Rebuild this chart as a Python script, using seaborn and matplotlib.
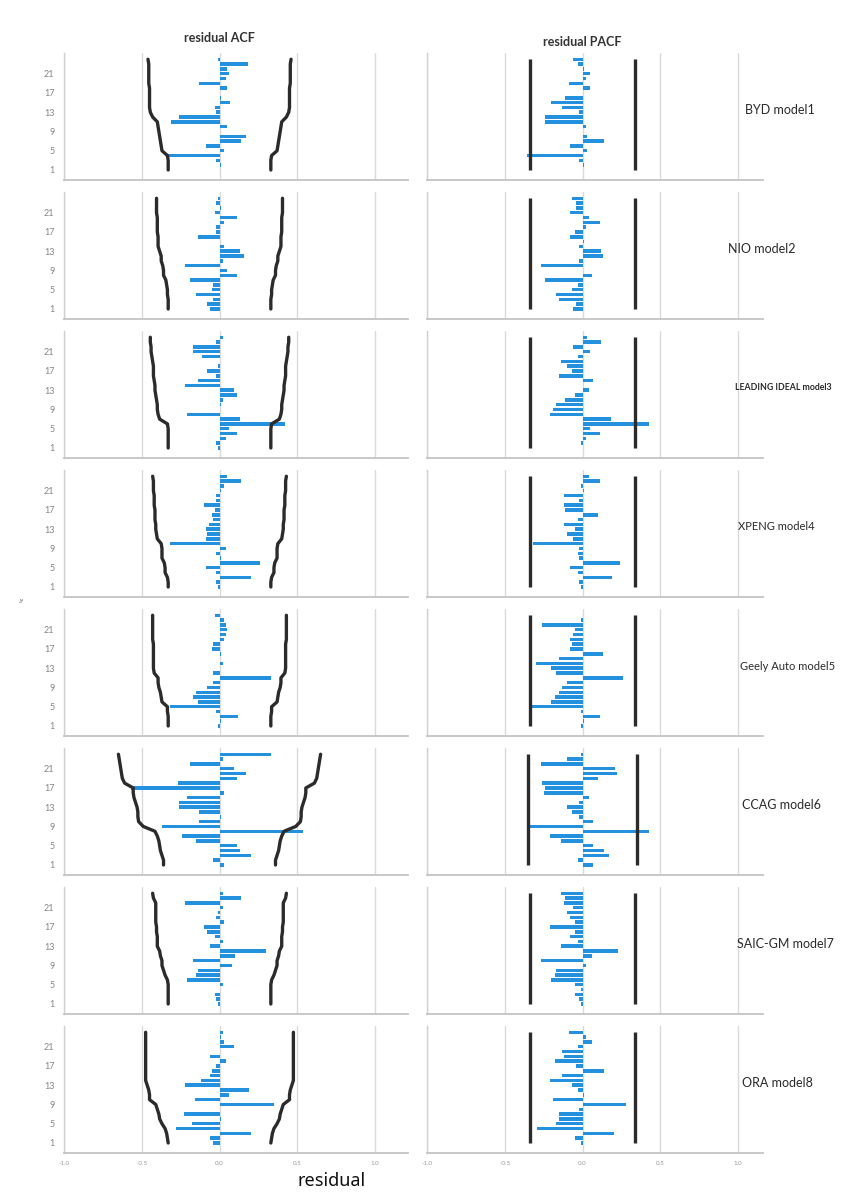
import matplotlib
matplotlib.use("Agg")
import matplotlib.pyplot as plt
import seaborn as sns

# ---------------- data ----------------
lags = list(range(1, 25))
tick_lags = [1, 5, 9, 13, 17, 21]
x_ticks = [-1.0, -0.5, 0.0, 0.5, 1.0]
x_tick_labels = ["-1.0", "-0.5", "0.0", "0.5", "1.0"]
models = ["BYD model1", "NIO model2", "LEADING IDEAL model3", "XPENG model4",
          "Geely Auto model5", "CCAG model6", "SAIC-GM model7", "ORA model8"]

byd_acf = [0.0, 0.01, -0.02, -0.34, 0.03, -0.09, 0.14, 0.17, 0.0, 0.05, -0.31, -0.26,
           -0.02, -0.03, 0.07, 0.01, 0.0, 0.05, -0.13, 0.04, 0.06, 0.05, 0.18, -0.01]
byd_lim = [0.33, 0.33, 0.33, 0.335, 0.37, 0.375, 0.38, 0.385, 0.39, 0.395, 0.40, 0.43,
           0.445, 0.45, 0.45, 0.45, 0.45, 0.45, 0.455, 0.455, 0.455, 0.455, 0.455, 0.46]
byd_pacf = [0.0, 0.01, -0.02, -0.36, 0.03, -0.08, 0.14, 0.03, 0.0, 0.02, -0.24, -0.24,
            -0.02, -0.13, -0.2, -0.11, 0.0, 0.05, -0.09, 0.02, 0.05, 0.01, -0.03, -0.06]

nio_acf = [-0.06, -0.08, -0.04, -0.15, -0.05, -0.04, -0.19, 0.11, 0.05, -0.22, 0.02, 0.16,
           0.13, 0.03, 0.0, -0.14, -0.02, -0.02, 0.03, 0.11, -0.03, 0.01, -0.02, -0.01]
nio_lim = [0.33, 0.33, 0.33, 0.335, 0.335, 0.34, 0.345, 0.36, 0.36, 0.365, 0.375, 0.375,
           0.385, 0.395, 0.395, 0.395, 0.40, 0.40, 0.40, 0.40, 0.405, 0.405, 0.405, 0.405]
nio_pacf = [-0.06, -0.04, -0.15, -0.17, -0.07, -0.03, -0.24, 0.06, 0.0, -0.27, -0.02, 0.13,
            0.12, -0.02, 0.01, -0.08, -0.05, 0.02, 0.11, 0.04, -0.08, -0.04, -0.04, -0.07]

lead_acf = [-0.01, -0.02, 0.04, 0.11, 0.06, 0.42, 0.13, -0.21, 0.0, 0.01, 0.02, 0.11,
            0.09, -0.22, -0.14, -0.02, -0.08, -0.01, 0.0, -0.11, -0.17, -0.17, -0.02, 0.02]
lead_lim = [0.33, 0.33, 0.33, 0.33, 0.33, 0.335, 0.385, 0.395, 0.40, 0.40, 0.405, 0.41,
            0.415, 0.415, 0.42, 0.425, 0.425, 0.425, 0.43, 0.435, 0.44, 0.44, 0.445, 0.445]
lead_pacf = [0.0, -0.01, 0.02, 0.11, 0.05, 0.43, 0.18, -0.21, -0.19, -0.17, -0.11, -0.05,
             0.04, 0.0, 0.07, -0.15, -0.07, -0.1, -0.14, -0.03, 0.05, -0.06, 0.12, 0.03]

xp_acf = [-0.01, -0.02, 0.2, -0.02, -0.09, 0.26, 0.01, -0.02, 0.04, -0.32, -0.09, -0.08,
          -0.09, -0.07, -0.04, -0.05, -0.03, -0.1, -0.02, -0.02, 0.01, 0.03, 0.14, 0.05]
xp_lim = [0.33, 0.33, 0.335, 0.35, 0.35, 0.355, 0.37, 0.37, 0.37, 0.375, 0.40, 0.405,
          0.41, 0.41, 0.415, 0.415, 0.415, 0.42, 0.42, 0.42, 0.425, 0.425, 0.425, 0.43]
xp_pacf = [-0.01, -0.02, 0.19, -0.03, -0.08, 0.24, -0.02, -0.03, -0.02, -0.32, -0.06, -0.1,
           -0.05, -0.12, -0.03, 0.1, -0.11, -0.12, -0.02, -0.12, 0.01, -0.01, 0.11, 0.04]

geely_acf = [-0.01, 0.01, 0.12, -0.02, -0.32, -0.14, -0.17, -0.15, -0.08, -0.04, 0.33, -0.04,
             0.0, 0.02, 0.0, 0.01, -0.05, -0.04, 0.03, 0.04, 0.05, 0.04, 0.03, -0.03]
geely_lim = [0.33, 0.33, 0.33, 0.335, 0.335, 0.37, 0.375, 0.38, 0.39, 0.395, 0.395, 0.42,
             0.425, 0.425, 0.425, 0.425, 0.425, 0.425, 0.43, 0.43, 0.43, 0.43, 0.43, 0.43]
geely_pacf = [-0.01, 0.01, 0.11, -0.01, -0.33, -0.2, -0.18, -0.15, -0.13, -0.1, 0.26, -0.17,
              -0.2, -0.3, -0.15, 0.13, -0.08, -0.07, -0.08, -0.06, -0.05, -0.26, -0.01, 0.0]

ccag_acf = [0.03, -0.04, 0.2, 0.13, 0.11, -0.15, -0.24, 0.54, -0.37, -0.13, 0.01, -0.13,
            -0.26, -0.26, -0.21, 0.03, -0.57, -0.27, 0.11, 0.17, 0.09, -0.19, 0.02, 0.33]
ccag_lim = [0.36, 0.36, 0.37, 0.38, 0.385, 0.39, 0.40, 0.415, 0.49, 0.52, 0.525, 0.525,
            0.53, 0.54, 0.55, 0.555, 0.555, 0.61, 0.625, 0.63, 0.635, 0.64, 0.645, 0.65]
ccag_pacf = [0.07, -0.03, 0.17, 0.14, 0.07, -0.14, -0.21, 0.43, -0.34, 0.07, -0.02, -0.07,
             -0.1, -0.02, 0.04, -0.25, -0.24, -0.26, 0.1, 0.22, 0.21, -0.27, -0.1, -0.01]

saic_acf = [-0.01, -0.02, -0.03, 0.0, 0.02, -0.21, -0.15, -0.14, 0.08, -0.17, 0.1, 0.3,
            -0.06, 0.02, -0.03, -0.08, -0.1, 0.03, -0.02, -0.01, 0.02, -0.22, 0.14, 0.02]
saic_lim = [0.33, 0.33, 0.33, 0.33, 0.33, 0.335, 0.35, 0.36, 0.37, 0.37, 0.38, 0.385,
            0.40, 0.40, 0.40, 0.405, 0.405, 0.41, 0.41, 0.41, 0.41, 0.41, 0.425, 0.43]
saic_pacf = [-0.01, -0.02, -0.05, -0.01, -0.05, -0.2, -0.18, -0.17, 0.02, -0.27, 0.06, 0.23,
             -0.14, -0.03, -0.08, -0.05, -0.21, -0.05, -0.08, -0.1, -0.06, -0.12, -0.11, -0.14]

ora_acf = [-0.04, -0.06, 0.2, -0.28, -0.18, 0.01, -0.23, 0.0, 0.35, -0.16, 0.06, 0.19,
           -0.22, -0.12, -0.06, -0.05, -0.02, 0.04, -0.06, 0.0, 0.09, 0.03, 0.01, 0.02]
ora_lim = [0.33, 0.335, 0.34, 0.35, 0.37, 0.385, 0.39, 0.40, 0.41, 0.45, 0.45, 0.455,
           0.465, 0.475, 0.475, 0.475, 0.475, 0.475, 0.475, 0.475, 0.475, 0.475, 0.475, 0.475]
ora_pacf = [-0.01, -0.05, 0.2, -0.29, -0.17, -0.15, -0.15, -0.02, 0.28, -0.19, 0.01, -0.03,
            -0.07, -0.21, -0.13, 0.14, -0.04, -0.18, -0.12, -0.13, -0.03, 0.06, 0.02, -0.09]

pacf_limits = [0.335, 0.335, 0.335, 0.335, 0.335, 0.35, 0.335, 0.335]

acf_list = [byd_acf, nio_acf, lead_acf, xp_acf, geely_acf, ccag_acf, saic_acf, ora_acf]
lim_list = [byd_lim, nio_lim, lead_lim, xp_lim, geely_lim, ccag_lim, saic_lim, ora_lim]
pacf_list = [byd_pacf, nio_pacf, lead_pacf, xp_pacf, geely_pacf, ccag_pacf, saic_pacf, ora_pacf]

# ---------------- style / layout ----------------
sns.set_theme(style="white")
plt.rcParams["font.family"] = ["Lato", "DejaVu Sans"]

BLUE = "#2391de"
DARK = "#2b2b2b"
W, H = 858, 1194
fig = plt.figure(figsize=(W / 100, H / 100), dpi=100)
fig.patch.set_facecolor("white")

label_x = [745, 728, 735, 738, 740, 742, 737, 742]
label_size = [9, 9, 6.3, 8, 8, 9, 9, 9]
label_weight = ["normal", "normal", "bold", "normal", "normal", "normal", "normal", "normal"]


def make_ax(x0, x1, ybot, h=127):
    return fig.add_axes([x0 / W, 1 - ybot / H, (x1 - x0) / W, h / H])


def style_ax(ax, xmax, left_labels, bottom_labels):
    ax.set_xlim(-1.0, xmax)
    ax.set_ylim(-1.08, 25.3)
    ax.set_xlabel("")
    ax.set_ylabel("")
    ax.set_facecolor("white")
    ax.set_xticks(x_ticks)
    ax.set_yticks(tick_lags)
    ax.grid(axis="x", color="#dadada", lw=1.0)
    ax.grid(axis="y", visible=False)
    ax.set_axisbelow(True)
    for s in ["top", "right"]:
        ax.spines[s].set_visible(False)
    ax.spines["left"].set_color("#d0d0d0")
    ax.spines["left"].set_linewidth(1.0)
    ax.spines["bottom"].set_color("#c4c4c4")
    ax.spines["bottom"].set_linewidth(1.3)
    if left_labels:
        ax.set_yticklabels([str(t) for t in tick_lags], fontsize=6.5, color="#858585")
        ax.tick_params(axis="y", length=0, pad=7)
    else:
        ax.tick_params(axis="y", length=0, labelleft=False)
    if bottom_labels:
        ax.set_xticklabels(x_tick_labels, fontsize=4.5, color="#9a9a9a")
        ax.tick_params(axis="x", length=2, color="#c4c4c4", pad=4)
    else:
        ax.tick_params(axis="x", length=0, labelbottom=False)


for i in range(8):
    ybot = 180 + 139 * i
    last = i == 7

    # ACF panel
    axL = make_ax(64, 408, ybot)
    sns.barplot(x=acf_list[i], y=lags, orient="h", native_scale=True, width=0.72,
                color=BLUE, saturation=1, linewidth=0, errorbar=None, ax=axL)
    sns.lineplot(x=lim_list[i], y=lags, sort=False, estimator=None, color=DARK,
                 lw=2.4, ax=axL, legend=False)
    sns.lineplot(x=[-v for v in lim_list[i]], y=lags, sort=False, estimator=None,
                 color=DARK, lw=2.4, ax=axL, legend=False)
    style_ax(axL, 1.212, True, last)

    # PACF panel
    axR = make_ax(427, 763, ybot)
    sns.barplot(x=pacf_list[i], y=lags, orient="h", native_scale=True, width=0.72,
                color=BLUE, saturation=1, linewidth=0, errorbar=None, ax=axR)
    axR.vlines([-pacf_limits[i], pacf_limits[i]], lags[0], lags[-1], colors=DARK, lw=2.4)
    style_ax(axR, 1.16, False, last)

    fig.text(label_x[i] / W, 1 - (ybot - 70) / H, models[i], fontsize=label_size[i],
             weight=label_weight[i], color="#2a2a2a", ha="left", va="center")

fig.text(219 / W, 1 - 38 / H, "residual ACF", fontsize=9, weight="bold",
         color="#333333", ha="center", va="center")
fig.text(582 / W, 1 - 42 / H, "residual PACF", fontsize=9, weight="bold",
         color="#333333", ha="center", va="center")
fig.text(332 / W, 1 - 1181 / H, "residual", fontsize=13, color="#111111",
         ha="center", va="center", family=["Noto Sans", "DejaVu Sans"])
fig.text(22 / W, 1 - 600 / H, "lag", fontsize=3, color="#555555", rotation=90,
         ha="center", va="center")

fig.savefig("out.png", dpi=100, facecolor="white")
